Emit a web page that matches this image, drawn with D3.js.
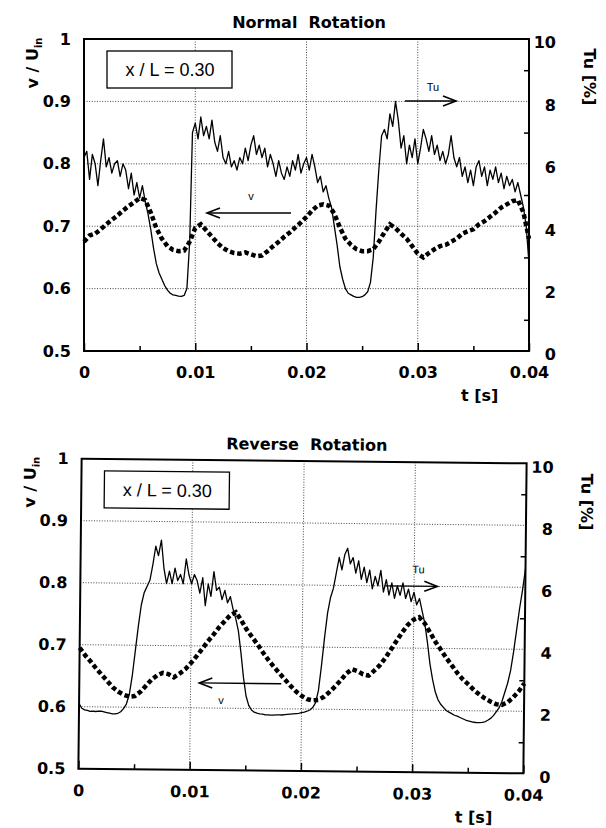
<!DOCTYPE html>
<html>
<head>
<meta charset="utf-8">
<script src="https://cdn.jsdelivr.net/npm/d3@7"></script>
<style>
body { margin: 0; background: #fff; }
text { font-family: "DejaVu Sans", sans-serif; }
</style>
</head>
<body>
<div id="chart"></div>
<script>

// sample spacing of the two series [s]
var dtTu = 0.00025,
    dtV = 0.0005;

// turbulence intensity Tu [%], normal rotation
var tuNormal = [
  6.2, 6.4, 5.5, 6.3, 6.0, 5.3, 6.1, 6.8, 5.9, 6.2, 5.7, 6.0, 6.1, 5.6, 6.0, 5.8,
  5.2, 5.7, 5.0, 5.4, 4.9, 5.3, 4.8, 4.4, 3.9, 3.3, 2.8, 2.5, 2.3, 2.1, 1.95, 1.85,
  1.8, 1.78, 1.76, 1.75, 1.78, 2.0, 3.5, 7.0, 7.3, 6.8, 7.5, 6.9, 7.2, 6.8, 7.4, 6.7,
  6.4, 6.9, 6.2, 6.0, 6.4, 5.9, 6.1, 5.8, 6.2, 6.0, 6.5, 6.1, 6.6, 6.9, 6.3, 6.6,
  6.2, 6.5, 5.9, 6.3, 6.0, 5.6, 6.1, 5.7, 5.5, 5.9, 5.6, 6.1, 5.8, 6.3, 5.7, 6.0,
  6.2, 5.8, 6.3, 5.9, 5.4, 5.6, 5.1, 5.3, 4.9, 4.6, 4.0, 3.4, 2.7, 2.3, 2.0, 1.85,
  1.8, 1.75, 1.72, 1.72, 1.74, 1.8, 1.9, 2.2, 3.0, 4.5, 5.8, 6.9, 7.1, 6.8, 7.6, 7.2,
  8.0, 7.4, 6.5, 6.9, 6.0, 6.6, 6.2, 6.8, 6.0, 6.5, 7.1, 6.8, 6.4, 6.9, 6.3, 6.6,
  6.1, 6.4, 6.0, 6.3, 6.9, 6.2, 5.9, 6.2, 5.6, 5.9, 5.4, 5.8, 5.3, 5.9, 6.1, 5.6,
  5.9, 5.3, 5.8, 5.5, 5.9, 5.4, 5.7, 5.2, 5.6, 5.3, 5.5, 5.1, 5.4, 5.0, 4.6, 4.0,
  2.8
];

// velocity v / U_in, normal rotation
var vNormal = [
  0.675, 0.685, 0.688, 0.695, 0.703, 0.71, 0.717, 0.725, 0.732, 0.738,
  0.745, 0.742, 0.722, 0.697, 0.68, 0.668, 0.662, 0.66, 0.661, 0.675,
  0.697, 0.703, 0.693, 0.683, 0.673, 0.665, 0.66, 0.657, 0.656, 0.658,
  0.655, 0.652, 0.653, 0.66, 0.668, 0.675, 0.683, 0.69, 0.698, 0.706,
  0.715, 0.725, 0.733, 0.735, 0.733, 0.72, 0.698, 0.68, 0.67, 0.663,
  0.66, 0.66, 0.663, 0.675, 0.69, 0.703, 0.697, 0.688, 0.68, 0.668,
  0.656, 0.65, 0.657, 0.663, 0.668, 0.67, 0.675, 0.68, 0.688, 0.692,
  0.695, 0.703, 0.708, 0.715, 0.722, 0.73, 0.735, 0.74, 0.742, 0.722,
  0.68
];

// turbulence intensity Tu [%], reverse rotation
var tuReverse = [
  2.1, 1.95, 1.9, 1.88, 1.85, 1.86, 1.85, 1.86, 1.86, 1.84, 1.82, 1.8, 1.78, 1.78, 1.8, 1.85,
  1.95, 2.1, 2.4, 3.0, 3.8, 4.6, 5.3, 5.7, 5.9, 6.1, 6.6, 7.2, 6.9, 7.4, 6.5, 6.0,
  6.4, 6.0, 6.5, 6.1, 6.3, 6.0, 6.8, 6.3, 6.0, 6.3, 6.1, 5.7, 6.2, 5.3, 6.0, 5.6,
  6.4, 5.8, 5.9, 5.5, 5.8, 5.4, 5.6, 5.2, 4.9, 4.5, 3.8, 3.0, 2.4, 2.1, 1.95, 1.88,
  1.85, 1.83, 1.82, 1.8, 1.8, 1.79, 1.79, 1.8, 1.8, 1.8, 1.81, 1.82, 1.83, 1.84, 1.85, 1.86,
  1.88, 1.9, 1.93, 1.97, 2.05, 2.2, 2.6, 3.4, 4.3, 5.1, 5.6, 5.9, 6.4, 6.9, 6.5, 7.0,
  7.2, 6.7, 6.9, 6.4, 6.8, 6.2, 6.6, 6.1, 6.5, 5.9, 6.3, 6.0, 6.5, 5.8, 6.2, 5.7,
  6.1, 5.6, 6.0, 5.7, 6.1, 5.6, 5.9, 5.5, 5.8, 5.4, 5.6, 5.2, 4.8, 4.2, 3.5, 3.0,
  2.6, 2.35, 2.2, 2.1, 2.0, 1.95, 1.9, 1.85, 1.82, 1.78, 1.74, 1.7, 1.67, 1.65, 1.63, 1.62,
  1.62, 1.63, 1.65, 1.7, 1.76, 1.85, 1.97, 2.1, 2.3, 2.6, 2.9, 3.3, 3.9, 4.6, 5.3, 5.9,
  6.6
];

// velocity v / U_in, reverse rotation
var vReverse = [
  0.695, 0.683, 0.673, 0.662, 0.652, 0.642, 0.632, 0.625, 0.62, 0.617,
  0.618, 0.625, 0.635, 0.645, 0.652, 0.656, 0.654, 0.649, 0.655, 0.662,
  0.672, 0.683, 0.695, 0.707, 0.718, 0.73, 0.74, 0.75, 0.755, 0.742,
  0.727, 0.715, 0.703, 0.69, 0.678, 0.667, 0.657, 0.647, 0.637, 0.628,
  0.621, 0.616, 0.614, 0.615, 0.62, 0.628, 0.637, 0.647, 0.658, 0.665,
  0.662, 0.657, 0.655, 0.663, 0.672, 0.684, 0.698, 0.712, 0.726, 0.738,
  0.746, 0.75, 0.74, 0.725, 0.71, 0.697, 0.684, 0.672, 0.66, 0.65,
  0.642, 0.633, 0.626, 0.62, 0.615, 0.611, 0.61, 0.614, 0.622, 0.632,
  0.645
];

// axes
var xTicks = [0, 0.01, 0.02, 0.03, 0.04];
var xMinor = [0.005, 0.015, 0.025, 0.035];
var vTicks = [0.5, 0.6, 0.7, 0.8, 0.9, 1];
var tuTicks = [0, 2, 4, 6, 8, 10];
var tuMinor = [1, 3, 5, 7, 9];

var titles = ["Normal  Rotation", "Reverse  Rotation"];
var boxLabel = "x / L = 0.30";

var svg = d3.select("#chart").append("svg")
            .attr("width", 606)
            .attr("height", 828)
            .style("display", "block");

var W = 445;

panel({ left: 84, top: 39, h: 312, angle: 0, title: titles[0], tu: tuNormal, v: vNormal,
        tuArrow: { x1: 321, x2: 372, y: 62, tx: 349, ty: 52 },
        vArrow: { x1: 207, x2: 123, y: 174, tx: 167, ty: 161 } });

panel({ left: 80, top: 461, h: 310, angle: 0.6, title: titles[1], tu: tuReverse, v: vReverse,
        tuArrow: { x1: 305, x2: 357, y: 124, tx: 338, ty: 111 },
        vArrow: { x1: 202, x2: 120, y: 223, tx: 142, ty: 244 } });


function panel(cfg) {
  var h = cfg.h;
  var g = svg.append("g")
             .attr("transform", "translate(" + cfg.left + "," + cfg.top + ") rotate(" + cfg.angle + "," + (W / 2) + "," + (h / 2) + ")");

  var x = d3.scaleLinear().domain([0, 0.04]).range([0, W]);
  var yv = d3.scaleLinear().domain([0.5, 1]).range([h, 0]);
  var yt = d3.scaleLinear().domain([0, 10]).range([h, 0]);

  // dotted grid
  g.selectAll(".gx").data(xTicks.slice(1, 4)).enter().append("line")
    .attr("x1", function(d) { return x(d); }).attr("x2", function(d) { return x(d); })
    .attr("y1", 0).attr("y2", h)
    .attr("stroke", "#333").attr("stroke-width", 0.9).attr("stroke-dasharray", "1,1.6");
  g.selectAll(".gy").data(vTicks.slice(1, 5)).enter().append("line")
    .attr("x1", 0).attr("x2", W)
    .attr("y1", function(d) { return yv(d); }).attr("y2", function(d) { return yv(d); })
    .attr("stroke", "#333").attr("stroke-width", 0.9).attr("stroke-dasharray", "1,1.6");

  // bottom axis, ticks pointing inward
  g.append("g").attr("transform", "translate(0," + h + ")")
    .call(d3.axisBottom(x).tickValues(xTicks).tickSize(-8).tickPadding(16)
      .tickFormat(function(d) { return d === 0 ? "0" : d.toFixed(2); }));
  g.append("g").attr("transform", "translate(0," + h + ")")
    .call(d3.axisBottom(x).tickValues(xMinor).tickSize(-5).tickFormat(""));

  // left axis
  g.append("g")
    .call(d3.axisLeft(yv).tickValues(vTicks).tickSize(0).tickPadding(13)
      .tickFormat(function(d) { return d === 1 ? "1" : d.toFixed(1); }));

  // right axis
  var ry = g.append("g").attr("transform", "translate(" + W + ",0)")
    .call(d3.axisRight(yt).tickValues(tuTicks).tickSize(0).tickPadding(27));
  g.append("g").attr("transform", "translate(" + W + ",0)")
    .call(d3.axisRight(yt).tickValues(tuMinor).tickSize(-5).tickFormat(""));

  g.selectAll(".domain").remove();
  g.selectAll(".tick line").attr("stroke", "#000").attr("stroke-width", 1.5);
  g.selectAll(".tick text")
    .attr("font-family", "DejaVu Sans").attr("font-weight", "bold")
    .attr("font-size", 16).attr("fill", "#000");
  ry.selectAll("text").attr("text-anchor", "end").attr("dy", "0.55em");

  // Tu: thin noisy line on right axis
  var lineTu = d3.line()
    .x(function(d, i) { return x(i * dtTu); })
    .y(function(d) { return yt(d); });
  g.append("path").datum(cfg.tu)
    .attr("d", lineTu)
    .attr("fill", "none").attr("stroke", "#000").attr("stroke-width", 1.3)
    .attr("stroke-linejoin", "round");

  // v: heavy dashed line on left axis
  var lineV = d3.line()
    .x(function(d, i) { return x(i * dtV); })
    .y(function(d) { return yv(d); });
  g.append("path").datum(cfg.v)
    .attr("d", lineV)
    .attr("fill", "none").attr("stroke", "#000").attr("stroke-width", 4.5)
    .attr("stroke-dasharray", "4.5,2.8");

  // frame
  g.append("rect").attr("x", 0).attr("y", 0).attr("width", W).attr("height", h)
    .attr("fill", "none").attr("stroke", "#000").attr("stroke-width", 2);

  // x / L box
  g.append("rect").attr("x", 23).attr("y", 12).attr("width", 125).attr("height", 37)
    .attr("fill", "#fff").attr("stroke", "#000").attr("stroke-width", 1.3);
  g.append("text").attr("x", 86).attr("y", 37)
    .attr("text-anchor", "middle")
    .style("font-family", "Liberation Sans").style("font-size", "18px")
    .text(boxLabel);

  // arrows with labels
  arrow(g, cfg.tuArrow, "Tu");
  arrow(g, cfg.vArrow, "v");

  // title
  g.append("text").attr("x", 225).attr("y", -11)
    .attr("text-anchor", "middle")
    .style("font-weight", "bold").style("font-size", "16px").style("white-space", "pre")
    .text(cfg.title);

  // left label v / U_in
  var lt = g.append("text")
    .attr("transform", "translate(-46,24) rotate(-90)")
    .attr("text-anchor", "middle")
    .style("font-weight", "bold").style("font-size", "16px");
  lt.append("tspan").text("v / U");
  lt.append("tspan").attr("dy", 4).style("font-size", "10px").text("in");

  // right label Tu [%]
  g.append("text")
    .attr("transform", "translate(500,38) rotate(90)")
    .attr("text-anchor", "middle")
    .style("font-weight", "bold").style("font-size", "16px")
    .text("Tu [%]");

  // t [s]
  g.append("text").attr("x", 377).attr("y", h + 50)
    .style("font-weight", "bold").style("font-size", "16px")
    .text("t [s]");
}

function arrow(g, a, label) {
  var dir = a.x2 > a.x1 ? 1 : -1;
  g.append("line")
    .attr("x1", a.x1).attr("x2", a.x2).attr("y1", a.y).attr("y2", a.y)
    .attr("stroke", "#000").attr("stroke-width", 1.4);
  g.append("path")
    .attr("d", "M" + (a.x2 - dir * 13) + "," + (a.y - 5) + "L" + a.x2 + "," + a.y + "L" + (a.x2 - dir * 13) + "," + (a.y + 5))
    .attr("fill", "none").attr("stroke", "#000").attr("stroke-width", 1.6);
  g.append("text").attr("x", a.tx).attr("y", a.ty)
    .attr("text-anchor", "middle")
    .style("font-family", "Liberation Sans").style("font-size", "11px")
    .text(label);
}

</script>
</body>
</html>
